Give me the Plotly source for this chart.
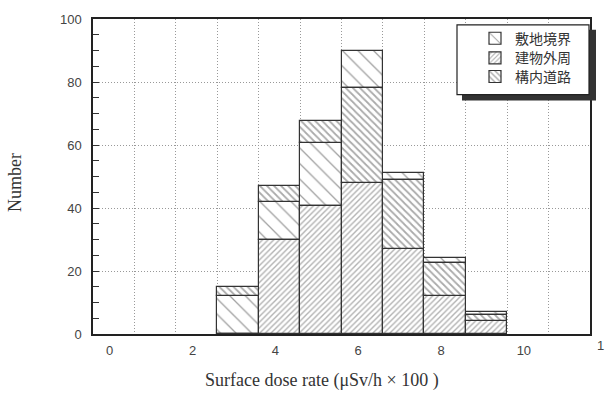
import plotly.graph_objects as go

# ---- data ----
dose_bins = [3, 4, 5, 6, 7, 8, 9]              # bin centres (uSv/h x 100)
building = [0, 30, 40.5, 48, 27, 12, 4]        # 建物外周
boundary = [12, 12, 20, 12, 2, 1.5, 1]         # 敷地境界
road = [3, 5, 7, 30, 22, 10.5, 2]              # 構内道路
# order of the two upper segments in each bin (as drawn in the original)
upper_order = ["boundary", "boundary", "boundary", "road", "road", "road", "road"]

x_ticks = [0, 2, 4, 6, 8, 10]
y_ticks = [0, 20, 40, 60, 80, 100]

names = {"boundary": "敷地境界", "building": "建物外周", "road": "構内道路"}

# bases computed from the data
boundary_base, road_base = [], []
for b, s, r, o in zip(building, boundary, road, upper_order):
    if o == "boundary":
        boundary_base.append(b)
        road_base.append(b + s)
    else:
        road_base.append(b)
        boundary_base.append(b + r)

line = dict(color="#333333", width=1.2)
fig = go.Figure()
fig.add_trace(go.Bar(
    x=dose_bins, y=boundary, base=boundary_base, name=names["boundary"], width=1,
    legend="legend",
    marker=dict(color="white", line=line,
                pattern=dict(shape="\\", size=11, solidity=0.12, fgcolor="#444444", bgcolor="white")),
))
fig.add_trace(go.Bar(
    x=dose_bins, y=building, base=[0] * len(building), name=names["building"], width=1,
    legend="legend2",
    marker=dict(color="white", line=line,
                pattern=dict(shape="/", size=4, solidity=0.35, fgcolor="#666666", bgcolor="white")),
))
fig.add_trace(go.Bar(
    x=dose_bins, y=road, base=road_base, name=names["road"], width=1,
    legend="legend3",
    marker=dict(color="white", line=line,
                pattern=dict(shape="\\", size=5, solidity=0.35, fgcolor="#555555", bgcolor="white")),
))

def px_x(p):
    return (p - 93) / 497

def px_y(p):
    return (334 - p) / 321

def leg(row_y):
    return dict(x=px_x(475), y=px_y(row_y), xanchor="left", yanchor="middle",
                bgcolor="rgba(0,0,0,0)", borderwidth=0,
                font=dict(family="Noto Sans CJK JP", size=14, color="#333333"))

fig.update_layout(
    width=612, height=394,
    margin=dict(l=93, r=22, t=13, b=60),
    paper_bgcolor="white", plot_bgcolor="white",
    barmode="overlay", bargap=0,
    showlegend=True,
    legend=leg(33), legend2=leg(53), legend3=leg(72),
    font=dict(family="Liberation Sans", size=13, color="#444444"),
    xaxis=dict(range=[-0.5, 11.5], tickvals=x_ticks, ticks="", showgrid=False,
               ticklabelshift=-4, ticklabelstandoff=4,
               showline=True, mirror=True, linecolor="#222222", linewidth=1.5,
               zeroline=False,
               minor=dict(tick0=0.5, dtick=1, showgrid=True, griddash="1px,2px",
                          gridcolor="#999999", gridwidth=1, ticks=""),
               tickfont=dict(family="Liberation Sans", size=13, color="#444444")),
    yaxis=dict(range=[0, 100], tickvals=y_ticks, ticks="inside", ticklen=6,
               tickcolor="#333333", showgrid=True, griddash="1px,2px",
               gridcolor="#999999", gridwidth=1, zeroline=False,
               showline=True, mirror=True, linecolor="#222222", linewidth=1.5,
               ticklabelstandoff=7,
               minor=dict(dtick=5, ticks="inside", ticklen=6, tickcolor="#333333", showgrid=False),
               tickfont=dict(family="Liberation Sans", size=13, color="#444444")),
    shapes=[
        dict(type="rect", xref="paper", yref="paper", layer="above",
             x0=px_x(462), x1=px_x(596), y0=px_y(96), y1=px_y(24),
             fillcolor="#333333", line=dict(width=0)),
        dict(type="rect", xref="paper", yref="paper", layer="above",
             x0=px_x(457), x1=px_x(589), y0=px_y(90), y1=px_y(19),
             fillcolor="white", line=dict(color="#222222", width=1.2)),
    ],
    annotations=[
        dict(text="Surface dose rate (μSv/h × 100 )", xref="paper", yref="paper",
             x=px_x(322), y=px_y(381), showarrow=False, xanchor="center", yanchor="middle",
             font=dict(family="Liberation Serif", size=18, color="#333333")),
        dict(text="Number", xref="paper", yref="paper", textangle=-90,
             x=px_x(15), y=px_y(180), showarrow=False, xanchor="center", yanchor="middle",
             font=dict(family="Liberation Serif", size=18, color="#333333")),
        dict(text="1", xref="paper", yref="paper",
             x=px_x(600), y=px_y(346), showarrow=False, xanchor="center", yanchor="middle",
             font=dict(family="Liberation Sans", size=13, color="#444444")),
    ],
)

fig.write_html("out.html")
